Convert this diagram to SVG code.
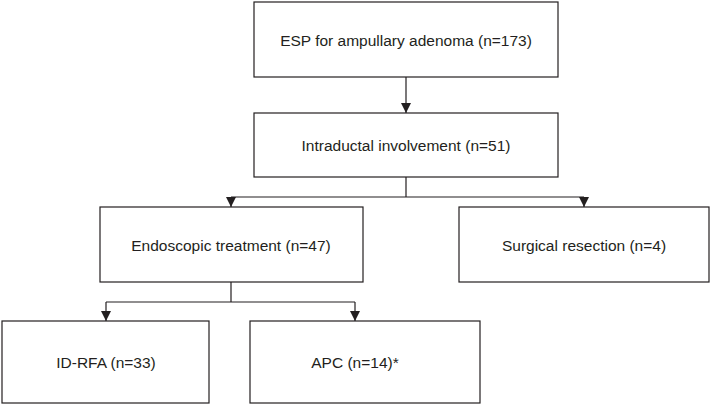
<svg xmlns="http://www.w3.org/2000/svg" width="711" height="406" viewBox="0 0 711 406">
<style>
.b{fill:#fff;stroke:#231f20;stroke-width:1.2}
.t{font-family:"Liberation Sans",Arial,sans-serif;font-size:15.5px;fill:#231f20;text-anchor:middle;dominant-baseline:central}
.c{fill:none;stroke:#231f20;stroke-width:1.2}
</style>
<defs><marker id="a" viewBox="0 0 10 10" refX="10" refY="5" markerWidth="10" markerHeight="10" markerUnits="userSpaceOnUse" orient="auto"><path d="M0,0L10,5L0,10z" fill="#231f20"/></marker></defs>
<rect width="711" height="406" fill="#fff"/>
<g id="connectors">
<path class="c" d="M406,77V113" marker-end="url(#a)"/>
<path class="c" d="M406,177V197H231M406,197H584"/>
<path class="c" d="M231,197V207" marker-end="url(#a)"/>
<path class="c" d="M584,197V207" marker-end="url(#a)"/>
<path class="c" d="M231,282V302H106M231,302H355"/>
<path class="c" d="M106,302V321" marker-end="url(#a)"/>
<path class="c" d="M355,302V321" marker-end="url(#a)"/>
</g>
<g id="n1"><rect class="b" x="254" y="2" width="304" height="75"/><text class="t" x="406" y="40">ESP for ampullary adenoma (n=173)</text></g>
<g id="n2"><rect class="b" x="254" y="113" width="304" height="64"/><text class="t" x="406" y="145">Intraductal involvement (n=51)</text></g>
<g id="n3"><rect class="b" x="100" y="207" width="263" height="75"/><text class="t" x="231" y="245">Endoscopic treatment (n=47)</text></g>
<g id="n4"><rect class="b" x="459" y="207" width="250" height="75"/><text class="t" x="584" y="245">Surgical resection (n=4)</text></g>
<g id="n5"><rect class="b" x="2" y="321" width="207" height="82"/><text class="t" x="106" y="362">ID-RFA (n=33)</text></g>
<g id="n6"><rect class="b" x="250" y="321" width="230" height="82"/><text class="t" x="355" y="362">APC (n=14)*</text></g>
</svg>
